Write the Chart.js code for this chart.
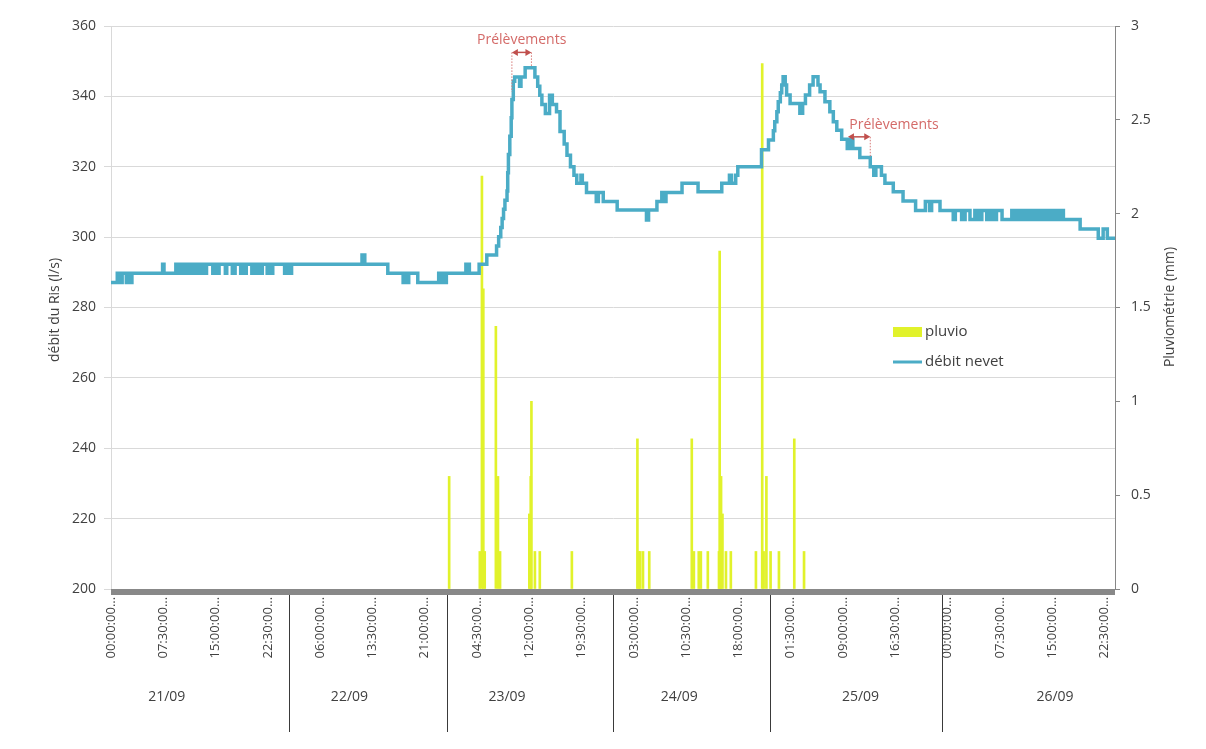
<!DOCTYPE html>
<html>
<head>
<meta charset="utf-8">
<script src="https://cdn.jsdelivr.net/npm/chart.js@4.4.1/dist/chart.umd.min.js"></script>
<style>
  html, body { margin: 0; padding: 0; background: #ffffff; }
  canvas { display: block; }
</style>
</head>
<body>
<canvas id="chart" width="1206" height="749"></canvas>
<script>
// hours counted from 21/09 00:00
var tickHours = [0, 7.5, 15, 22.5, 30, 37.5, 45, 52.5, 60, 67.5, 75, 82.5, 90, 97.5, 105, 112.5, 120, 127.5, 135, 142.5];
var tickLabels = ["00:00:00…", "07:30:00…", "15:00:00…", "22:30:00…", "06:00:00…", "13:30:00…", "21:00:00…",
                  "04:30:00…", "12:00:00…", "19:30:00…", "03:00:00…", "10:30:00…", "18:00:00…", "01:30:00…",
                  "09:00:00…", "16:30:00…", "00:00:00…", "07:30:00…", "15:00:00…", "22:30:00…"];

var dayNames = ["21/09", "22/09", "23/09", "24/09", "25/09", "26/09"];
var dayLabelHours = [8.0, 34.2, 56.8, 81.5, 107.5, 135.4];
var dayBreakHours = [25.5, 48.2, 72.0, 94.5, 119.2];

// débit nevet (l/s), value holds from each hour until the next one
var flowHours = [0.0, 0.9, 1.4, 1.6, 2.2, 2.4, 2.8, 3.0, 7.4, 7.6,
  9.3, 9.6, 9.8, 10.3, 10.5, 10.9, 11.1, 11.6, 11.8, 12.3, 12.5, 12.9, 13.2, 13.4, 13.7,
  14.6, 14.8, 15.3, 15.5, 16.4, 16.6, 17.4, 17.8, 18.6, 18.8, 19.2, 19.4, 20.2, 20.4,
  20.9, 21.1, 21.5, 21.7, 22.4, 22.6, 23.0, 23.2, 24.9, 25.2, 25.5, 25.9,
  36.0, 36.4, 39.7, 41.9, 42.1, 42.5, 42.7, 44.0, 47.0, 47.3, 47.6, 47.9, 48.1,
  50.9, 51.4, 52.8, 53.9, 55.3, 55.6, 55.9, 56.1, 56.3, 56.5, 56.8, 56.9, 57.0, 57.2,
  57.4, 57.5, 57.7, 57.9, 58.6, 58.8, 59.4, 60.8, 61.2, 61.5, 61.8, 62.3, 62.9, 63.3,
  63.9, 64.4, 65.0, 65.4, 65.9, 66.4, 66.8, 67.4, 67.6, 68.2, 69.6, 69.9, 70.6, 72.6,
  76.8, 77.1, 78.3, 79.0, 79.3, 79.6, 81.9, 84.2, 87.6, 88.7, 89.0, 89.6, 89.9,
  93.3, 94.3, 95.0, 95.2, 95.5, 95.7, 96.0, 96.2, 96.4, 96.7, 96.9, 97.4, 98.8, 99.2,
  99.6, 100.2, 100.7, 101.4, 101.7, 102.4, 103.1, 103.6, 104.1, 104.8, 105.6, 105.9,
  106.4, 107.4, 108.9, 109.4, 109.7, 110.5, 111.0, 112.2, 113.6, 115.4, 116.8, 117.4,
  117.7, 118.9, 120.8, 121.1, 122.0, 122.5, 123.2, 123.9, 124.4, 124.9, 125.6, 126.1,
  126.6, 127.0, 127.8, 129.2, 129.7, 130.1, 130.5, 130.8, 131.2, 131.5, 131.8, 132.1,
  132.5, 132.8, 133.1, 133.4, 133.8, 134.1, 134.4, 134.7, 135.1, 135.3, 135.6, 136.1,
  136.6, 139.0, 141.6, 142.3, 142.9, 144.0];
var flowValues = [287.1, 289.7, 287.1, 289.7, 287.1, 289.7, 287.1, 289.7, 292.3, 289.7,
  292.3, 289.7, 292.3, 289.7, 292.3, 289.7, 292.3, 289.7, 292.3, 289.7, 292.3, 289.7, 292.3, 289.7, 292.3,
  289.7, 292.3, 289.7, 292.3, 289.7, 292.3, 289.7, 292.3, 289.7, 292.3, 289.7, 292.3, 289.7, 292.3,
  289.7, 292.3, 289.7, 292.3, 289.7, 292.3, 289.7, 292.3, 289.7, 292.3, 289.7, 292.3,
  294.9, 292.3, 289.7, 287.1, 289.7, 287.1, 289.7, 287.1, 289.7, 287.1, 289.7, 287.1, 289.7,
  292.3, 289.7, 292.3, 294.9, 297.5, 300.1, 302.7, 305.3, 307.9, 310.5, 313.1, 318.3, 323.5, 328.7,
  333.9, 339.1, 344.3, 345.5, 342.9, 345.5, 348.1, 345.5, 342.9, 340.3, 337.7, 335.1, 340.3, 337.7,
  335.6, 330.0, 326.5, 323.3, 320.0, 317.6, 315.3, 317.6, 315.3, 312.7, 310.1, 312.7, 310.1, 307.7,
  304.9, 307.7, 310.1, 312.7, 310.1, 312.7, 315.3, 312.9, 315.3, 317.6, 315.3, 317.6, 320.0,
  324.8, 327.6, 330.2, 332.8, 335.6, 338.5, 341.0, 343.2, 345.6, 343.2, 340.4, 338.0, 335.2, 338.0,
  340.4, 343.2, 345.6, 343.2, 341.3, 338.5, 335.6, 332.8, 330.4, 327.8, 325.2, 327.8,
  325.2, 322.6, 320.0, 317.6, 320.0, 317.6, 315.3, 312.9, 310.3, 307.6, 310.1, 307.6,
  310.1, 307.6, 305.0, 307.6, 305.0, 307.6, 305.0, 307.6, 305.0, 307.6, 305.0, 307.6,
  305.0, 307.6, 305.0, 307.6, 305.0, 307.6, 305.0, 307.6, 305.0, 307.6, 305.0, 307.6,
  305.0, 307.6, 305.0, 307.6, 305.0, 307.6, 305.0, 307.6, 305.0, 307.6, 305.0, 307.6,
  305.0, 302.3, 299.7, 302.3, 299.7, 299.7];

// pluvio (mm)
var rainHours = [48.5, 52.9, 53.2, 53.4, 53.6, 55.2, 55.5, 55.8, 60.0, 60.2, 60.3, 60.8, 61.5, 66.1,
  75.5, 75.7, 75.9, 76.3, 77.2, 83.3, 83.6, 84.3, 84.6, 85.6, 87.2, 87.3, 87.5, 87.7, 88.2, 88.9,
  92.5, 93.4, 93.6, 94.0, 94.6, 95.8, 98.0, 99.4];
var rainValues = [0.6, 0.2, 2.2, 1.6, 0.2, 1.4, 0.6, 0.2, 0.4, 0.6, 1.0, 0.2, 0.2, 0.2,
  0.8, 0.2, 0.2, 0.2, 0.2, 0.8, 0.2, 0.2, 0.2, 0.2, 0.2, 1.8, 0.6, 0.4, 0.2, 0.2,
  0.2, 2.8, 0.2, 0.6, 0.2, 0.2, 0.8, 0.2];

// "Prélèvements" marks
var prelevText = "Prélèvements";
var prelevStart = [57.5, 105.7];
var prelevEnd = [60.3, 108.9];
var prelevLevel = [352.5, 328.5];
var prelevDropStart = [341.3, null];
var prelevDropEnd = [348.4, 322.9];
var prelevTextHours = [58.9, 112.3];

var leftTitle = "débit du Ris (l/s)";
var rightTitle = "Pluviométrie (mm)";

var flowPoints = flowHours.map(function (h, i) { return { x: h, y: flowValues[i] }; });
var rainPoints = rainHours.map(function (h, i) { return { x: h, y: rainValues[i] }; });

var FONT = '"Open Sans", "DejaVu Sans", sans-serif';
var TXT = '#404040';

var extras = {
  id: 'extras',
  afterDraw: function (c) {
    var ctx = c.ctx, a = c.chartArea, xs = c.scales.x, ys = c.scales.y;
    ctx.save();

    // thick grey category axis
    ctx.fillStyle = '#888888';
    ctx.fillRect(a.left, a.bottom, a.right - a.left, 6);

    // day separators and names
    ctx.strokeStyle = '#3a3a3a';
    ctx.lineWidth = 1;
    dayBreakHours.forEach(function (h) {
      var x = Math.round(xs.getPixelForValue(h)) + 0.5;
      ctx.beginPath();
      ctx.moveTo(x, a.bottom + 6);
      ctx.lineTo(x, 732);
      ctx.stroke();
    });
    ctx.fillStyle = TXT;
    ctx.font = '14px ' + FONT;
    ctx.textAlign = 'center';
    ctx.textBaseline = 'middle';
    dayNames.forEach(function (d, i) {
      ctx.fillText(d, xs.getPixelForValue(dayLabelHours[i]), 697);
    });

    // axis titles
    ctx.save();
    ctx.translate(55, 310);
    ctx.rotate(-Math.PI / 2);
    ctx.fillText(leftTitle, 0, 0);
    ctx.restore();
    ctx.save();
    ctx.translate(1170, 307);
    ctx.rotate(-Math.PI / 2);
    ctx.fillText(rightTitle, 0, 0);
    ctx.restore();

    // legend
    var ds = c.data.datasets;
    ctx.font = '15px ' + FONT;
    ctx.textAlign = 'left';
    ctx.fillStyle = ds[1].backgroundColor;
    ctx.fillRect(893, 327, 29, 10);
    ctx.fillStyle = TXT;
    ctx.fillText(ds[1].label, 925, 332);
    ctx.strokeStyle = ds[0].borderColor;
    ctx.lineWidth = 3;
    ctx.beginPath();
    ctx.moveTo(893, 362);
    ctx.lineTo(922, 362);
    ctx.stroke();
    ctx.fillText(ds[0].label, 925, 362);

    // sampling marks
    for (var i = 0; i < prelevStart.length; i++) {
      var x1 = xs.getPixelForValue(prelevStart[i]);
      var x2 = xs.getPixelForValue(prelevEnd[i]);
      var y = ys.getPixelForValue(prelevLevel[i]);
      ctx.strokeStyle = '#d77a78';
      ctx.lineWidth = 1;
      ctx.setLineDash([1.5, 1.5]);
      if (prelevDropStart[i] !== null) {
        ctx.beginPath();
        ctx.moveTo(x1, y);
        ctx.lineTo(x1, ys.getPixelForValue(prelevDropStart[i]));
        ctx.stroke();
      }
      if (prelevDropEnd[i] !== null) {
        ctx.beginPath();
        ctx.moveTo(x2, y);
        ctx.lineTo(x2, ys.getPixelForValue(prelevDropEnd[i]));
        ctx.stroke();
      }
      ctx.setLineDash([]);
      ctx.strokeStyle = '#c0504d';
      ctx.fillStyle = '#c0504d';
      ctx.lineWidth = 1.5;
      ctx.beginPath();
      ctx.moveTo(x1 + 4, y);
      ctx.lineTo(x2 - 4, y);
      ctx.stroke();
      ctx.beginPath();
      ctx.moveTo(x1, y); ctx.lineTo(x1 + 6, y - 3.5); ctx.lineTo(x1 + 6, y + 3.5); ctx.closePath();
      ctx.fill();
      ctx.beginPath();
      ctx.moveTo(x2, y); ctx.lineTo(x2 - 6, y - 3.5); ctx.lineTo(x2 - 6, y + 3.5); ctx.closePath();
      ctx.fill();
      ctx.fillStyle = '#d46a68';
      ctx.font = '14px ' + FONT;
      ctx.textAlign = 'center';
      ctx.fillText(prelevText, xs.getPixelForValue(prelevTextHours[i]), y - 12);
    }
    ctx.restore();
  }
};

var ctx = document.getElementById("chart");
var myChart = new Chart(ctx, {
  type: 'bar',
  data: {
    datasets: [
      {
        type: 'line',
        label: 'débit nevet',
        data: flowPoints,
        yAxisID: 'y',
        borderColor: '#4bacc6',
        borderWidth: 3.5,
        pointRadius: 0,
        stepped: true,
        fill: false,
        order: 0
      },
      {
        type: 'bar',
        label: 'pluvio',
        data: rainPoints,
        yAxisID: 'y1',
        backgroundColor: '#e1f22b',
        barThickness: 2,
        order: 1
      }
    ]
  },
  options: {
    responsive: false,
    maintainAspectRatio: false,
    animation: false,
    layout: { padding: { top: 26, left: 0, right: 0, bottom: 0 } },
    plugins: {
      legend: { display: false },
      tooltip: { enabled: false },
      title: { display: false }
    },
    scales: {
      x: {
        type: 'linear',
        min: 0,
        max: 144,
        offset: false,
        grid: { display: false, drawTicks: false },
        border: { display: false },
        afterBuildTicks: function (s) {
          s.ticks = tickHours.map(function (h) { return { value: h }; });
        },
        afterFit: function (s) { s.height = 160; },
        ticks: {
          autoSkip: false,
          minRotation: 90,
          maxRotation: 90,
          padding: 8,
          color: TXT,
          font: { family: FONT, size: 13 },
          callback: function (v, i) { return tickLabels[i]; }
        }
      },
      y: {
        position: 'left',
        min: 200,
        max: 360,
        ticks: { stepSize: 20, padding: 8, color: TXT, font: { family: FONT, size: 14 } },
        grid: { color: '#d9d9d9', tickLength: 7 },
        border: { color: '#d9d9d9' },
        afterFit: function (s) { s.width = 111; }
      },
      y1: {
        position: 'right',
        min: 0,
        max: 3,
        ticks: {
          stepSize: 0.5, padding: 11, color: TXT, font: { family: FONT, size: 14 },
          callback: function (v) { return String(v); }
        },
        grid: { drawOnChartArea: false, color: '#868686', tickLength: 5 },
        border: { color: '#868686' },
        afterFit: function (s) { s.width = 91; }
      }
    }
  },
  plugins: [extras]
});
</script>
</body>
</html>
